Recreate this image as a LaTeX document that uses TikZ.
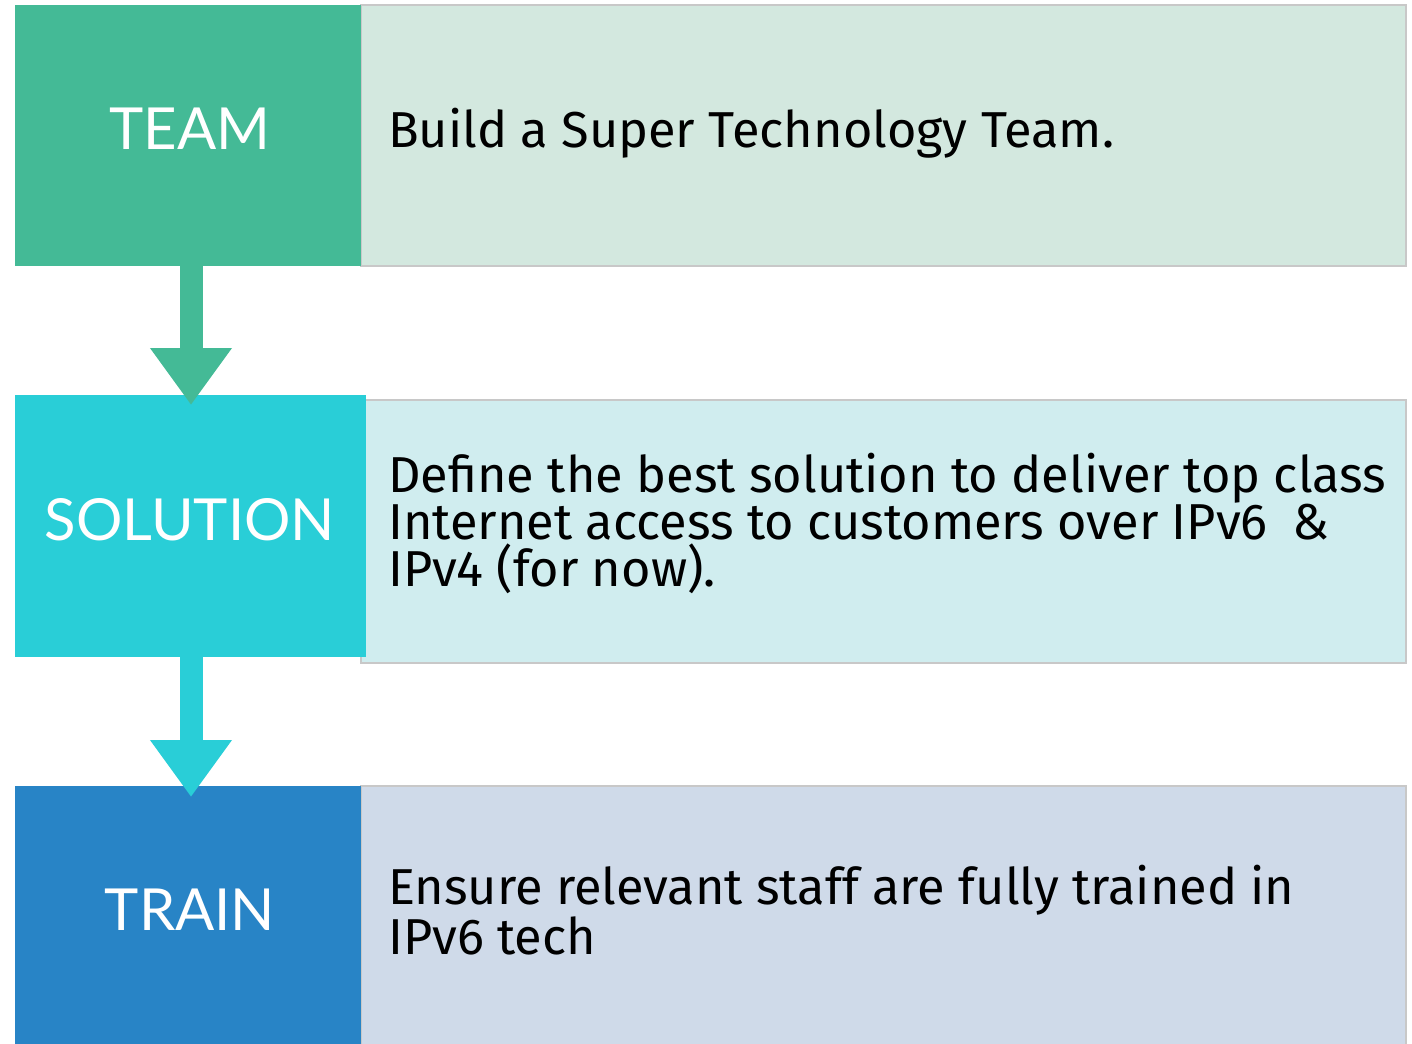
\documentclass[tikz,border=0pt]{standalone}
\usepackage{fontspec}
\setmainfont{Fira Sans}
\newfontfamily\labelfont{Lato}
\usetikzlibrary{arrows.meta}
\definecolor{teamc}{HTML}{44BA96}
\definecolor{teaml}{HTML}{D3E8DF}
\definecolor{solc}{HTML}{29CED7}
\definecolor{soll}{HTML}{D0EDEF}
\definecolor{trainc}{HTML}{2884C6}
\definecolor{trainl}{HTML}{CFDAE9}
\definecolor{edge}{HTML}{C8C8C8}
\tikzset{
  headbox/.style={anchor=north west, inner sep=0pt, outer sep=0pt},
  headtext/.style={inner sep=0pt, text=white, font=\labelfont\fontsize{58}{62}\selectfont},
  lightbox/.style={anchor=north west, inner sep=0pt, outer sep=0pt, draw=edge, line width=1.5pt},
  bodytext/.style={anchor=west, inner sep=0pt, align=left, text=black,
    font=\fontsize{50.5}{47}\selectfont},
  flow/.style={line width=23pt, -{Triangle[width=78pt,length=57pt]}}
}
\begin{document}
\begin{tikzpicture}[x=1pt,y=-1pt]
\fill[white] (0,0) rectangle (1412,1043);
\useasboundingbox (0,0) rectangle (1412,1043);
% light text boxes
\node[lightbox, fill=teaml, minimum width=1045pt, minimum height=261pt] (teamL) at (361,5) {};
\node[lightbox, fill=soll, minimum width=1045pt, minimum height=263pt] (solL) at (361,400) {};
\node[lightbox, fill=trainl, minimum width=1045pt, minimum height=280pt] (trainL) at (361,786) {};
% coloured heads
\node[headbox, fill=teamc, minimum width=346pt, minimum height=261pt] (team) at (15,5) {};
\node[headbox, fill=solc, minimum width=351pt, minimum height=262pt] (sol) at (15,395) {};
\node[headbox, fill=trainc, minimum width=346pt, minimum height=280pt] (train) at (15,786) {};
\node[headtext] (teamT) at (190,129) {TEAM};
\node[headtext] (solT) at (190,520) {SOLUTION};
\node[headtext] (trainT) at (190,910) {TRAIN};
% body texts
\node[bodytext] (teamB) at (388,133) {Build a Super Technology Team.};
\node[bodytext] (solB) at (388,523) {Define the best solution to deliver top class\\Internet access to customers over IPv6\enspace\&\\IPv4 (for now).};
\node[bodytext] (trainB) at (388,910) {Ensure relevant staff are fully trained in\\IPv6 tech};
% arrows
\coordinate (t1) at (191,405);
\coordinate (t2) at (191,797);
\draw[flow, teamc] (team.south -| t1) -- (t1);
\draw[flow, solc] (sol.south -| t2) -- (t2);
\end{tikzpicture}
\end{document}
